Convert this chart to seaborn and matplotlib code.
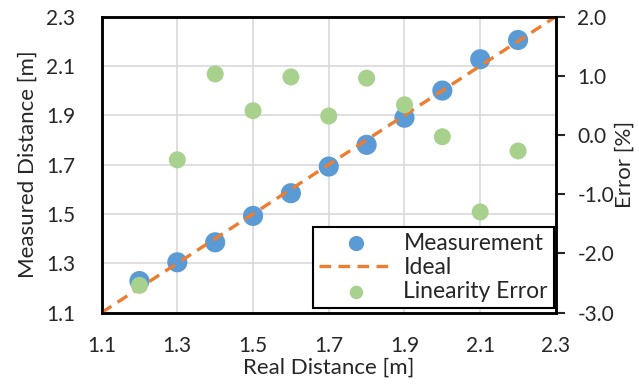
import numpy as np
import pandas as pd
import matplotlib
matplotlib.use("Agg")
import matplotlib.pyplot as plt
import seaborn as sns

real_distance = [1.2, 1.3, 1.4, 1.5, 1.6, 1.7, 1.8, 1.9, 2.0, 2.1, 2.2]
measured_distance = [1.228, 1.304, 1.385, 1.492, 1.584, 1.692, 1.780, 1.890, 2.000, 2.127, 2.205]
linearity_error = [-2.54, -0.42, 1.03, 0.41, 0.98, 0.32, 0.96, 0.51, -0.03, -1.30, -0.27]
ideal_x = [1.1, 2.3]
ideal_y = [1.1, 2.3]

sns.set_style("white")
plt.rcParams['font.family'] = ['Lato', 'DejaVu Sans']

blue = "#5B9BD5"
orange = "#ED7D31"
green = "#A9D18E"

df = pd.DataFrame({"real": real_distance, "meas": measured_distance, "err": linearity_error})
ideal = pd.DataFrame({"x": ideal_x, "y": ideal_y})

fig, ax = plt.subplots(figsize=(6.39, 3.85), dpi=100)
fig.subplots_adjust(left=0.159, right=0.870, top=0.957, bottom=0.188)

sns.scatterplot(data=df, x="real", y="meas", ax=ax, s=210, color=blue,
                edgecolor="none", label="Measurement", zorder=3)
sns.lineplot(data=ideal, x="x", y="y", ax=ax, color=orange, lw=2.4,
             label="Ideal", zorder=4)
ax.lines[-1].set_linestyle((0, (3.5, 2.2)))

ax.set_xlim(1.1, 2.3)
ax.set_ylim(1.1, 2.3)
ax.set_xticks(np.arange(1.1, 2.31, 0.2))
ax.set_yticks(np.arange(1.1, 2.31, 0.2))
ax.xaxis.set_major_formatter(matplotlib.ticker.FormatStrFormatter("%.1f"))
ax.yaxis.set_major_formatter(matplotlib.ticker.FormatStrFormatter("%.1f"))
ax.grid(True, color="#d9d9d9", lw=1.2)
ax.set_axisbelow(True)
ax.tick_params(axis="x", length=0, labelsize=15, pad=17)
ax.tick_params(axis="y", length=0, labelsize=15, pad=19)
ax.set_xlabel("Real Distance [m]", fontsize=16, labelpad=1)
ax.set_ylabel("Measured Distance [m]", fontsize=16, labelpad=6)

ax2 = ax.twinx()
sns.scatterplot(data=df, x="real", y="err", ax=ax2, s=150, color=green,
                edgecolor="none", label="Linearity Error", zorder=3)
ax2.set_ylim(-3.0, 2.0)
ax2.set_yticks(np.arange(-3.0, 2.01, 1.0))
ax2.yaxis.set_major_formatter(matplotlib.ticker.FormatStrFormatter("%.1f"))
ax2.tick_params(axis="y", length=6.5, width=1.5, labelsize=15, direction="out", pad=9)
ax2.set_ylabel("Error [%]", fontsize=16, labelpad=0)

for a in (ax, ax2):
    for sp in a.spines.values():
        sp.set_color("black")
        sp.set_linewidth(1.8)

h1, l1 = ax.get_legend_handles_labels()
h2, l2 = ax2.get_legend_handles_labels()
ax.get_legend().remove()
ax2.get_legend().remove()
leg = ax2.legend(h1 + h2, l1 + l2, loc="lower right", fontsize=16.5, frameon=True,
                 fancybox=False, framealpha=1, edgecolor="black",
                 bbox_to_anchor=(0.995, 0.015), borderaxespad=0, handlelength=3.3,
                 labelspacing=0.15, borderpad=0.25, handletextpad=0.4)
leg.get_frame().set_linewidth(1.5)
leg.legend_handles[0].set_sizes([120])
leg.legend_handles[2].set_sizes([95])

fig.savefig("out.png", dpi=100)
